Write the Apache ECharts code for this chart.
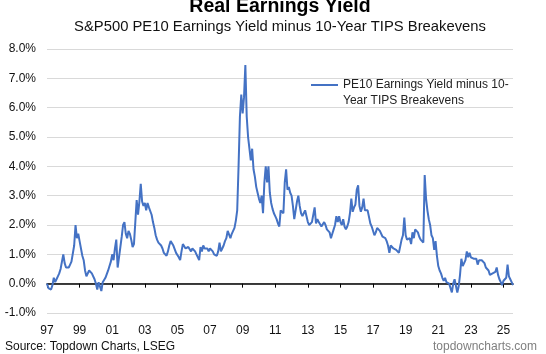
<!DOCTYPE html>
<html>
<head>
<meta charset="utf-8">
<script src="https://cdn.jsdelivr.net/npm/echarts@6/dist/echarts.min.js"></script>
<style>
  html, body { margin: 0; padding: 0; background: #fff; }
  #chart { width: 546px; height: 354px; }
</style>
</head>
<body>
<div id="chart"></div>
<script>
// monthly data, Jan 1997 .. Aug 2025 (percent)
var firstYear = 1997;
var yieldGap = [
    0.0, -0.15, -0.1, -0.2, -0.05, 0.2, 0.05, 0.15, 0.25, 0.35, 0.5, 0.75,   // 1997
    1.0, 0.7, 0.55, 0.6, 0.55, 0.65, 0.75, 0.8, 1.3, 2.0, 1.55, 1.7,         // 1998
    1.45, 1.2, 0.95, 0.8, 0.45, 0.25, 0.2, 0.45, 0.5, 0.35, 0.3, 0.15,       // 1999
    0.0, -0.2, 0.05, 0.1, -0.25, 0.05, 0.1, 0.2, 0.15, 0.45, 0.6, 0.75,      // 2000
    1.0, 0.8, 1.2, 1.5, 0.55, 0.9, 1.25, 1.6, 2.0, 2.1, 1.7, 1.55,           // 2001
    1.8, 1.7, 1.5, 1.25, 1.35, 2.1, 2.85, 2.35, 2.8, 3.4, 2.8, 2.65,         // 2002
    2.75, 2.5, 2.75, 2.6, 2.55, 2.35, 2.1, 1.9, 1.65, 1.5, 1.4, 1.35,        // 2003
    1.3, 1.2, 1.05, 1.0, 0.95, 1.1, 1.3, 1.45, 1.4, 1.3, 1.25, 1.05,         // 2004
    1.0, 0.9, 0.8, 1.1, 1.35, 1.3, 1.2, 1.2, 1.25, 1.25, 1.1, 1.2,           // 2005
    1.15, 1.1, 1.0, 0.95, 0.8, 1.25, 1.1, 1.3, 1.2, 1.25, 1.2, 1.1,          // 2006
    1.2, 1.15, 1.1, 1.0, 1.0, 0.95, 1.1, 1.4, 1.1, 1.2, 1.3, 1.45,           // 2007
    1.55, 1.8, 1.85, 1.55, 1.7, 1.8, 1.9, 2.15, 2.5, 4.0, 5.7, 6.45,         // 2008
    5.8, 6.35, 7.45, 5.7, 5.0, 4.6, 4.2, 4.6, 3.9, 3.65, 3.3, 3.1,           // 2009
    2.9, 2.75, 3.0, 2.4, 3.45, 4.0, 3.45, 4.0, 3.1, 2.75, 2.55, 2.4,         // 2010
    2.3, 2.2, 2.05, 1.95, 2.5, 2.45, 2.4, 3.45, 3.9, 3.2, 3.3, 3.1,          // 2011
    3.0, 2.65, 2.2, 2.5, 2.8, 3.0, 2.65, 2.4, 2.3, 2.4, 2.5, 2.3,            // 2012
    2.1, 2.0, 1.95, 2.1, 2.05, 2.6, 2.05, 2.2, 2.1, 2.05, 1.95, 2.0,         // 2013
    2.1, 2.0, 1.85, 1.9, 1.75, 1.55, 1.7, 1.85, 2.0, 2.3, 2.1, 2.3,          // 2014
    2.1, 2.0, 2.2, 1.95, 1.85, 1.95, 2.1, 2.4, 2.9, 2.45, 2.6, 2.7,          // 2015
    3.2, 3.35, 2.65, 2.45, 2.6, 2.9, 2.5, 2.45, 2.5, 2.45, 2.05, 1.95,       // 2016
    1.9, 1.65, 1.75, 1.9, 1.85, 1.8, 1.75, 1.6, 1.6, 1.55, 1.45, 1.3,        // 2017
    1.05, 1.3, 1.25, 1.2, 1.15, 1.15, 1.1, 1.05, 1.0, 1.5, 1.65, 2.25,       // 2018
    1.65, 1.5, 1.45, 1.55, 1.35, 1.75, 1.55, 1.85, 1.9, 1.75, 1.6, 1.5,      // 2019
    1.45, 1.4, 3.7, 2.9, 2.5, 2.2, 2.0, 1.65, 1.55, 1.15, 1.45, 0.95,        // 2020
    0.6, 0.45, 0.35, 0.2, 0.1, 0.2, 0.05, 0.1, 0.0, -0.05, -0.3, 0.0,        // 2021
    0.15, 0.2, -0.3, -0.1, 0.3, 0.85, 0.6, 0.55, 0.8, 1.1, 0.9, 1.05,        // 2022
    0.9, 0.95, 0.85, 0.9, 0.85, 0.65, 0.8, 0.75, 0.8, 0.75, 0.7, 0.55,       // 2023
    0.5, 0.45, 0.3, 0.35, 0.35, 0.3, 0.4, 0.55, 0.3, 0.15, 0.05, -0.05,      // 2024
    0.1, 0.15, 0.2, 0.65, 0.25, 0.15, 0.05, -0.05                            // 2025
];

// month categories, e.g. "1997-01"
var months = [];
for (var i = 0; i < yieldGap.length; i++) {
    var y = firstYear + Math.floor(i / 12);
    var m = (i % 12) + 1;
    months.push(y + '-' + (m < 10 ? '0' + m : m));
}

// axis labels: January of odd years
var tickYears = [1997, 1999, 2001, 2003, 2005, 2007, 2009, 2011, 2013, 2015, 2017, 2019, 2021, 2023, 2025];
function isTick(idx, val) {
    return val.slice(5) === '01' && tickYears.indexOf(+val.slice(0, 4)) >= 0;
}

var font = '"Liberation Sans", Arial, sans-serif';
var seriesName = 'PE10 Earnings Yield minus 10-Year TIPS Breakevens';

var dom = document.getElementById('chart');
var myChart = echarts.init(dom, null, { renderer: 'canvas' });

var option = {
    animation: false,
    textStyle: { fontFamily: font },
    grid: { left: 47, right: 33, top: 49, bottom: 41 },
    graphic: [
        { type: 'text', x: 280, y: 7, style: { text: 'Real Earnings Yield', align: 'center', verticalAlign: 'middle',
            fontSize: 19.5, fontWeight: 'bold', fontFamily: font, fill: '#000' } },
        { type: 'text', x: 280, y: 27, style: { text: 'S&P500 PE10 Earnings Yield minus 10-Year TIPS Breakevens', align: 'center', verticalAlign: 'middle',
            fontSize: 14.8, fontFamily: font, fill: '#111' } },
        { type: 'text', x: 5, y: 347, style: { text: 'Source: Topdown Charts, LSEG', align: 'left', verticalAlign: 'middle',
            fontSize: 12, fontFamily: font, fill: '#111' } },
        { type: 'text', x: 537, y: 347, style: { text: 'topdowncharts.com', align: 'right', verticalAlign: 'middle',
            fontSize: 12, fontFamily: font, fill: '#7f7f7f' } }
    ],
    legend: {
        left: 311,
        top: 61,
        padding: 0,
        icon: 'rect',
        itemWidth: 27,
        itemHeight: 2,
        selectedMode: false,
        data: [seriesName],
        // blank first line keeps the icon level with the first text line
        formatter: function (name) { return '\u00a0\n' + name.replace('10-Year', '10-\nYear'); },
        textStyle: { fontSize: 12, color: '#222', lineHeight: 16, fontFamily: font }
    },
    xAxis: [
        {
            type: 'category',
            data: months,
            boundaryGap: false,
            axisLine: { onZero: true, lineStyle: { color: '#000', width: 1.5 } },
            axisTick: { show: true, interval: isTick, length: 4, lineStyle: { color: '#000', width: 1 } },
            axisLabel: { show: false },
            splitLine: { show: false }
        },
        {
            type: 'category',
            data: months,
            position: 'bottom',
            boundaryGap: false,
            axisLine: { show: false, onZero: false },
            axisTick: { show: false },
            axisLabel: {
                interval: isTick,
                margin: 12,
                fontSize: 12,
                color: '#111',
                fontFamily: font,
                formatter: function (val) { return val.slice(2, 4); }
            },
            splitLine: { show: false }
        }
    ],
    yAxis: {
        type: 'value',
        min: -1,
        max: 8,
        interval: 1,
        axisLine: { show: false },
        axisTick: { show: false },
        axisLabel: {
            margin: 11,
            fontSize: 12,
            color: '#111',
            fontFamily: font,
            formatter: function (v) { return v.toFixed(1) + '%'; }
        },
        splitLine: { lineStyle: { color: '#d9d9d9', width: 1 } }
    },
    series: [
        {
            name: seriesName,
            type: 'line',
            xAxisIndex: 0,
            data: yieldGap,
            symbol: 'none',
            lineStyle: { color: '#4472c4', width: 2 },
            itemStyle: { color: '#4472c4' }
        }
    ]
};

if (option && typeof option === "object") {
    myChart.setOption(option, true);
}
</script>
</body>
</html>
